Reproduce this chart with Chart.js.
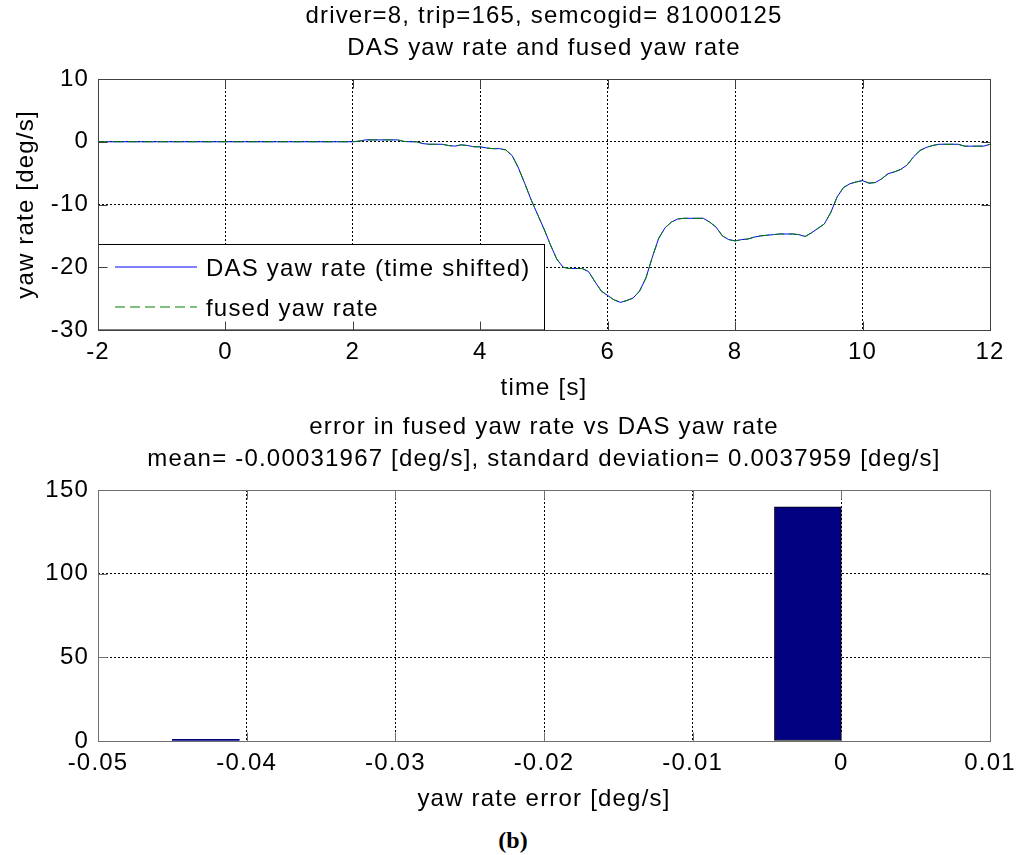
<!DOCTYPE html>
<html>
<head>
<meta charset="utf-8">
<title>DAS yaw rate and fused yaw rate</title>
<script src="https://cdn.jsdelivr.net/npm/chart.js@4/dist/chart.umd.min.js"></script>
<style>
  html, body { margin: 0; padding: 0; background: #fff; }
  #wrap { position: relative; width: 1019px; height: 855px; overflow: hidden; background: #fff; }
  #yawChart { position: absolute; left: 0; top: 0; }
  #errChart { position: absolute; left: 0; top: 411px; }
  #caption {
    position: absolute; left: 0; width: 1026px; top: 827px;
    text-align: center; line-height: 24px;
    font: bold 24px "Liberation Serif", "Times New Roman", serif; color: #000;
  }
</style>
</head>
<body>
<div id="wrap">
  <canvas id="yawChart" width="1019" height="400"></canvas>
  <canvas id="errChart" width="1019" height="400"></canvas>
  <div id="caption">(b)</div>
</div>
<script>
// ---- time series: yaw rate [deg/s], sampled every 0.1 s from -2 s to 12 s ----
const startTime = -2;
const sampleStep = 0.1;

const dasYawRate = [
  0, 0, 0, 0, 0, 0, 0, 0, 0, 0,
  0, 0, 0, 0, 0, 0, 0, 0, 0, 0,
  0, 0, 0, 0, 0, 0, 0, 0, 0, 0,
  0, 0, 0, 0, 0, 0, 0, 0, 0, 0,
  0,
  0.1, 0.3, 0.3, 0.3, 0.3, 0.3, 0.3, 0.05, 0.0, 0.0,
  -0.3, -0.4, -0.4, -0.4, -0.6, -0.7, -0.5, -0.6, -0.8, -0.8,
  -1.0, -1.1, -1.1, -1.3, -2.2, -4.2, -6.7, -9.3, -11.6, -13.9,
  -16.4, -18.7, -20.0, -20.2, -20.2, -20.2, -20.7, -22.3, -23.8, -24.5,
  -25.2, -25.6, -25.3, -24.9, -23.8, -21.7, -18.4, -15.4, -13.7, -12.8,
  -12.3, -12.2, -12.2, -12.2, -12.2, -12.8, -13.6, -15.0, -15.6, -15.8,
  -15.6, -15.5, -15.2, -15.0, -14.9, -14.8, -14.7, -14.7, -14.7, -14.8,
  -15.1, -14.5, -13.8, -13.1, -11.3, -8.8, -7.3, -6.7, -6.4, -6.2,
  -6.6, -6.5, -5.9, -5.1, -4.8, -4.4, -3.7, -2.4, -1.4, -0.9,
  -0.6, -0.4, -0.4, -0.4, -0.4, -0.7, -0.7, -0.7, -0.7, -0.4
];

const fusedYawRate = [
  0, 0, 0, 0, 0, 0, 0, 0, 0, 0,
  0, 0, 0, 0, 0, 0, 0, 0, 0, 0,
  0, 0, 0, 0, 0, 0, 0, 0, 0, 0,
  0, 0, 0, 0, 0, 0, 0, 0, 0, 0,
  0,
  0.1, 0.3, 0.3, 0.3, 0.3, 0.3, 0.3, 0.05, 0.0, 0.0,
  -0.3, -0.4, -0.4, -0.4, -0.6, -0.7, -0.5, -0.6, -0.8, -0.8,
  -1.0, -1.1, -1.1, -1.3, -2.2, -4.2, -6.7, -9.3, -11.6, -13.9,
  -16.4, -18.7, -20.0, -20.2, -20.2, -20.2, -20.7, -22.3, -23.8, -24.5,
  -25.2, -25.6, -25.3, -24.9, -23.8, -21.7, -18.4, -15.4, -13.7, -12.8,
  -12.3, -12.2, -12.2, -12.2, -12.2, -12.8, -13.6, -15.0, -15.6, -15.8,
  -15.6, -15.5, -15.2, -15.0, -14.9, -14.8, -14.7, -14.7, -14.7, -14.8,
  -15.1, -14.5, -13.8, -13.1, -11.3, -8.8, -7.3, -6.7, -6.4, -6.2,
  -6.6, -6.5, -5.9, -5.1, -4.8, -4.4, -3.7, -2.4, -1.4, -0.9,
  -0.6, -0.4, -0.4, -0.4, -0.4, -0.7, -0.7, -0.7, -0.7, -0.4
];

const timeTicks = [-2, 0, 2, 4, 6, 8, 10, 12];
const timeTickLabels = ['-2', '0', '2', '4', '6', '8', '10', '12'];
const yawTicks = [-30, -20, -10, 0, 10];
const yawTickLabels = ['-30', '-20', '-10', '0', '10'];

// ---- histogram of the yaw rate error (10 bins) ----
const errBinCenters = [-0.04275, -0.03825, -0.03375, -0.02925, -0.02475,
                       -0.02025, -0.01575, -0.01125, -0.00675, -0.00225];
const errBinCounts = [1, 0, 0, 0, 0, 0, 0, 0, 0, 140];
const errTicks = [-0.05, -0.04, -0.03, -0.02, -0.01, 0, 0.01];
const errTickLabels = ['-0.05', '-0.04', '-0.03', '-0.02', '-0.01', '0', '0.01'];
const countTicks = [0, 50, 100, 150];
const countTickLabels = ['0', '50', '100', '150'];

const FONT = '"Liberation Sans", Arial, Helvetica, sans-serif';
const sampleTimes = dasYawRate.map((_, i) => +(startTime + i * sampleStep).toFixed(1));

// Slightly spaced lettering, as the plotting software renders its text
const spacing = {
  id: 'spacing',
  beforeUpdate(chart) { chart.ctx.letterSpacing = '1.2px'; },
  beforeDraw(chart) { chart.ctx.letterSpacing = '1.2px'; }
};

// Two-line title centred over the plot box
const boxTitle = {
  id: 'boxTitle',
  afterDraw(chart, args, opts) {
    const ctx = chart.ctx, a = chart.chartArea;
    ctx.save();
    ctx.font = '24px ' + FONT;
    ctx.fillStyle = '#000';
    ctx.textAlign = 'center';
    ctx.textBaseline = 'alphabetic';
    const cx = (a.left + a.right) / 2;
    opts.lines.forEach((t, i) => ctx.fillText(t, cx, opts.baseline + i * 32));
    ctx.restore();
  }
};

// Box legend in the lower-left corner of the plot
const boxLegend = {
  id: 'boxLegend',
  afterDatasetsDraw(chart, args, opts) {
    if (!opts.show) return;
    const ctx = chart.ctx, a = chart.chartArea;
    const left = a.left, top = a.bottom - 86, w = 446, h = 86;
    ctx.save();
    ctx.fillStyle = '#fff';
    ctx.fillRect(left, top, w, h);
    ctx.strokeStyle = '#000';
    ctx.lineWidth = 1;
    ctx.strokeRect(left + 0.5, top + 0.5, w, h - 0.5);
    ctx.font = '24px ' + FONT;
    ctx.textAlign = 'left';
    ctx.textBaseline = 'middle';
    chart.data.datasets.forEach((ds, i) => {
      const y = Math.round(top + 23 + i * 40);
      ctx.beginPath();
      ctx.setLineDash(ds.borderDash || []);
      ctx.strokeStyle = ds.borderColor;
      ctx.lineWidth = ds.borderWidth;
      ctx.moveTo(left + 17, y);
      ctx.lineTo(left + 99, y);
      ctx.stroke();
      ctx.setLineDash([]);
      ctx.fillStyle = '#000';
      ctx.fillText(ds.label, left + 108, y + 2);
    });
    ctx.restore();
  }
};

// Plot box with inward tick marks on all four sides
const boxFrame = {
  id: 'boxFrame',
  afterDraw(chart, args, opts) {
    const ctx = chart.ctx, a = chart.chartArea;
    const xs = chart.scales.x, ys = chart.scales.y;
    const L = Math.round(a.left) + 0.5, R = Math.round(a.right) + 0.5;
    const T = Math.round(a.top) + 0.5, B = Math.round(a.bottom) + 0.5;
    const len = 9;
    ctx.save();
    ctx.strokeStyle = opts.color;
    ctx.lineWidth = 1;
    ctx.setLineDash([]);
    ctx.beginPath();
    xs.ticks.forEach(t => {
      const p = Math.round(xs.getPixelForValue(t.value)) + 0.5;
      if (p <= L + 1 || p >= R - 1) return;
      ctx.moveTo(p, B); ctx.lineTo(p, B - len);
      ctx.moveTo(p, T); ctx.lineTo(p, T + len);
    });
    ys.ticks.forEach(t => {
      const p = Math.round(ys.getPixelForValue(t.value)) + 0.5;
      if (p <= T + 1 || p >= B - 1) return;
      ctx.moveTo(L, p); ctx.lineTo(L + len, p);
      ctx.moveTo(R, p); ctx.lineTo(R - len, p);
    });
    ctx.stroke();
    ctx.strokeRect(L, T, R - L, B - T);
    ctx.restore();
  }
};

function axisScale(min, max, ticks, labels, isX, titleText) {
  return {
    type: 'linear',
    min: min,
    max: max,
    offset: false,
    afterBuildTicks(scale) { scale.ticks = ticks.map(v => ({ value: v })); },
    afterFit(scale) {
      // fixed plot box: ignore label overhang when laying out
      if (isX) {
        scale.height = 70;
        scale.paddingLeft = 0;
        scale.paddingRight = 0;
      } else {
        scale.width = 98;
        scale.paddingTop = 0;
        scale.paddingBottom = 0;
      }
    },
    ticks: {
      color: '#000',
      font: { family: FONT, size: 24, lineHeight: 1.2 },
      padding: isX ? 8 : 9,
      maxRotation: 0,
      autoSkip: false,
      callback(value) {
        const i = ticks.findIndex(v => Math.abs(v - value) < 1e-9);
        return i >= 0 ? labels[i] : '';
      }
    },
    grid: { color: '#000', lineWidth: 1, drawTicks: false, offset: false },
    border: { display: false, dash: [2, 2] },
    title: {
      display: !!titleText,
      text: titleText || '',
      color: '#000',
      font: { family: FONT, size: 24, lineHeight: 1 },
      padding: isX ? { top: 0, bottom: 0 } : { top: 14, bottom: 0 }
    }
  };
}

Chart.defaults.font.family = FONT;

new Chart(document.getElementById('yawChart'), {
  type: 'line',
  data: {
    datasets: [
      {
        label: 'DAS yaw rate (time shifted)',
        data: sampleTimes.map((t, i) => ({ x: t, y: dasYawRate[i] })),
        borderColor: '#0000ff',
        borderWidth: 1,
        pointRadius: 0,
        tension: 0,
        order: 1
      },
      {
        label: 'fused yaw rate',
        data: sampleTimes.map((t, i) => ({ x: t, y: fusedYawRate[i] })),
        borderColor: '#008000',
        borderWidth: 1,
        borderDash: [10, 5],
        pointRadius: 0,
        tension: 0,
        order: 0
      }
    ]
  },
  options: {
    responsive: false,
    animation: false,
    events: [],
    layout: { padding: { top: 79, right: 29, bottom: 0, left: 0 } },
    scales: {
      x: axisScale(-2, 12, timeTicks, timeTickLabels, true, 'time [s]'),
      y: axisScale(-30, 10, yawTicks, yawTickLabels, false, 'yaw rate [deg/s]')
    },
    plugins: {
      legend: { display: false },
      tooltip: { enabled: false },
      boxTitle: { lines: ['driver=8, trip=165, semcogid= 81000125', 'DAS yaw rate and fused yaw rate'], baseline: 23 },
      boxLegend: { show: true },
      boxFrame: { color: '#404040' }
    }
  },
  plugins: [spacing, boxTitle, boxLegend, boxFrame]
});

new Chart(document.getElementById('errChart'), {
  type: 'bar',
  data: {
    datasets: [
      {
        label: 'yaw rate error',
        data: errBinCenters.map((c, i) => ({ x: c, y: errBinCounts[i] })),
        backgroundColor: ctx => (ctx.raw && ctx.raw.y > 0 ? '#000080' : 'rgba(0,0,0,0)'),
        borderColor: '#000',
        borderWidth: ctx => (ctx.raw && ctx.raw.y > 1 ? 1 : 0),
        borderSkipped: false,
        barPercentage: 1,
        categoryPercentage: 1
      }
    ]
  },
  options: {
    responsive: false,
    animation: false,
    events: [],
    layout: { padding: { top: 79, right: 29, bottom: 0, left: 0 } },
    scales: {
      x: axisScale(-0.05, 0.01, errTicks, errTickLabels, true, 'yaw rate error [deg/s]'),
      y: axisScale(0, 150, countTicks, countTickLabels, false, '')
    },
    plugins: {
      legend: { display: false },
      tooltip: { enabled: false },
      boxTitle: { lines: ['error in fused yaw rate vs DAS yaw rate', 'mean= -0.00031967 [deg/s], standard deviation= 0.0037959 [deg/s]'], baseline: 23 },
      boxLegend: { show: false },
      boxFrame: { color: '#707070' }
    }
  },
  plugins: [spacing, boxTitle, boxLegend, boxFrame]
});
</script>
</body>
</html>
